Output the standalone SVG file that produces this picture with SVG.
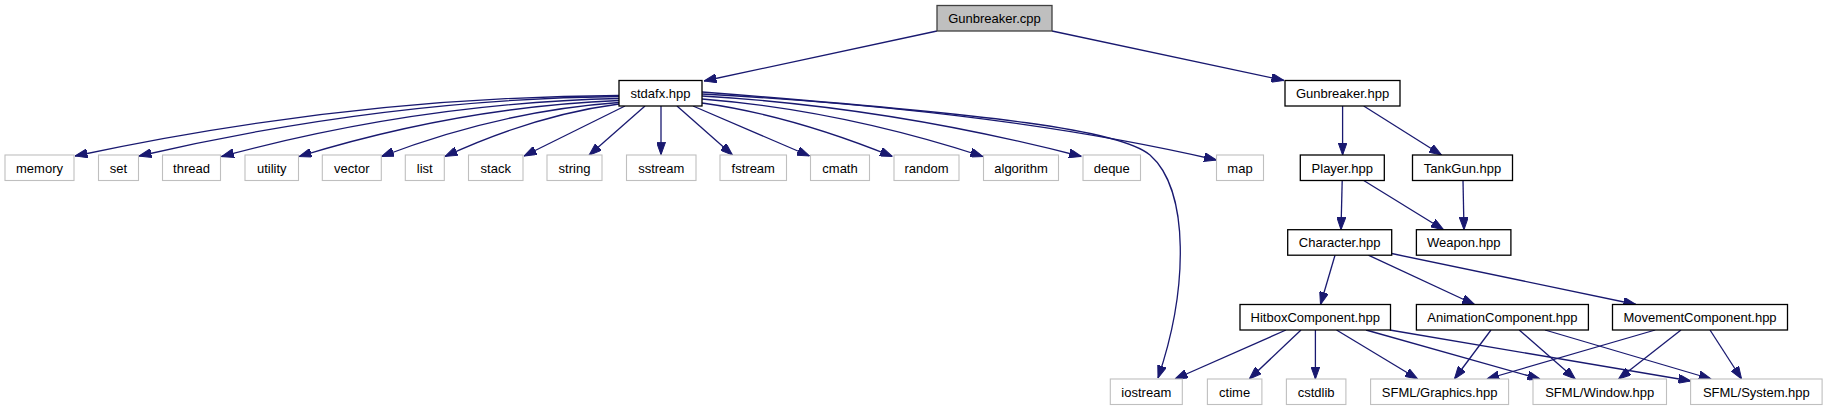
<svg xmlns="http://www.w3.org/2000/svg" width="1827" height="411" viewBox="0 0 1827 411">
<style>
rect{stroke-width:1.3}
.doc rect{fill:#fff;stroke:#000}
.ext rect{fill:#fff;stroke:#bfbfbf;stroke-width:1.1}
.root rect{fill:#bfbfbf;stroke:#404040}
text{font-family:"Liberation Sans",Arial,sans-serif;font-size:13px;text-anchor:middle;fill:#000}
#edges path{fill:none;stroke:#191970;stroke-width:1.3;marker-end:url(#ah)}
</style>
<defs>
<marker id="ah" markerUnits="userSpaceOnUse" viewBox="0 0 12.5 9" markerWidth="12.5" markerHeight="9" refX="12.5" refY="4.5" orient="auto">
<path d="M0,0 L12.5,4.5 L0,9 z" fill="#191970" stroke="#191970" stroke-width="1"/>
</marker>
</defs>
<rect width="1827" height="411" fill="#fff"/>
<g id="edges">
<path d="M937,31 L704,81"/>
<path d="M1052,31 L1284,80.5"/>
<path d="M619,95.5 Q350,97 75,156"/>
<path d="M619,96.5 Q385,99 139,156"/>
<path d="M619,98.5 Q420,103 221.5,156.5"/>
<path d="M619,100.5 Q460,107 299,156.5"/>
<path d="M619,102.5 Q500,111 381.5,156.5"/>
<path d="M619,104 Q535,115 445,156.5"/>
<path d="M625,106 L524,156"/>
<path d="M645,106 L589,155.3"/>
<path d="M661,106 L661,154.7"/>
<path d="M677,106 L732.5,155"/>
<path d="M693,106 L809.5,156"/>
<path d="M702,103 Q790,115 892.5,156.5"/>
<path d="M702,99 Q840,110 983,156.5"/>
<path d="M702,96 Q890,107 1081.5,156.5"/>
<path d="M702,94 Q1000,110 1216.5,160"/>
<path d="M702,92 C1000,115 1120,130 1150,155 C1190,190 1188,290 1158,378"/>
<path d="M1342.6,106 L1342.6,155"/>
<path d="M1363.7,106 L1441.5,155"/>
<path d="M1342.2,180.5 L1341,229.7"/>
<path d="M1363.7,180.5 L1443.6,229.7"/>
<path d="M1463,180.5 L1464,229.7"/>
<path d="M1335,255.2 L1320.5,304.5"/>
<path d="M1368.3,255.2 L1474.5,304.5"/>
<path d="M1391.7,253.5 L1636,304.5"/>
<path d="M1286,330 L1175,379"/>
<path d="M1301,330 L1249.3,379"/>
<path d="M1315.4,330 L1315.4,379"/>
<path d="M1336.5,330 L1417.7,379"/>
<path d="M1366,330 L1540,379"/>
<path d="M1389.7,330 L1691,381"/>
<path d="M1491,330 L1454.4,379"/>
<path d="M1519.2,330 L1575.3,379"/>
<path d="M1545,330 L1711.3,379"/>
<path d="M1655.2,330 L1486.8,379"/>
<path d="M1681,330 L1618.5,379"/>
<path d="M1710,330 L1741.6,379"/>
</g>
<g id="n_gunbreaker_cpp" class="root"><rect x="937" y="5.5" width="115" height="25.5"/><text x="994.5" y="23">Gunbreaker.cpp</text></g>
<g id="n_stdafx" class="doc"><rect x="619" y="80.5" width="83" height="25.5"/><text x="660.5" y="98">stdafx.hpp</text></g>
<g id="n_gunbreaker_hpp" class="doc"><rect x="1285" y="80.5" width="115" height="25.5"/><text x="1342.5" y="98">Gunbreaker.hpp</text></g>
<g id="n_memory" class="ext"><rect x="5" y="155" width="69" height="25.5"/><text x="39.5" y="172.5">memory</text></g>
<g id="n_set" class="ext"><rect x="98.5" y="155" width="40" height="25.5"/><text x="118.5" y="172.5">set</text></g>
<g id="n_thread" class="ext"><rect x="162.5" y="155" width="58" height="25.5"/><text x="191.5" y="172.5">thread</text></g>
<g id="n_utility" class="ext"><rect x="245" y="155" width="53.5" height="25.5"/><text x="271.75" y="172.5">utility</text></g>
<g id="n_vector" class="ext"><rect x="322.3" y="155" width="59" height="25.5"/><text x="351.8" y="172.5">vector</text></g>
<g id="n_list" class="ext"><rect x="405.3" y="155" width="39" height="25.5"/><text x="424.8" y="172.5">list</text></g>
<g id="n_stack" class="ext"><rect x="468.5" y="155" width="54.5" height="25.5"/><text x="495.75" y="172.5">stack</text></g>
<g id="n_string" class="ext"><rect x="547" y="155" width="55" height="25.5"/><text x="574.5" y="172.5">string</text></g>
<g id="n_sstream" class="ext"><rect x="626.5" y="155" width="69.5" height="25.5"/><text x="661.25" y="172.5">sstream</text></g>
<g id="n_fstream" class="ext"><rect x="720" y="155" width="66.5" height="25.5"/><text x="753.25" y="172.5">fstream</text></g>
<g id="n_cmath" class="ext"><rect x="810.5" y="155" width="59" height="25.5"/><text x="840" y="172.5">cmath</text></g>
<g id="n_random" class="ext"><rect x="894" y="155" width="65" height="25.5"/><text x="926.5" y="172.5">random</text></g>
<g id="n_algorithm" class="ext"><rect x="983.5" y="155" width="75" height="25.5"/><text x="1021" y="172.5">algorithm</text></g>
<g id="n_deque" class="ext"><rect x="1083" y="155" width="57.5" height="25.5"/><text x="1111.75" y="172.5">deque</text></g>
<g id="n_map" class="ext"><rect x="1216.5" y="155" width="47" height="25.5"/><text x="1240" y="172.5">map</text></g>
<g id="n_player" class="doc"><rect x="1300.3" y="155" width="84" height="25.5"/><text x="1342.3" y="172.5">Player.hpp</text></g>
<g id="n_tankgun" class="doc"><rect x="1412.5" y="155" width="100" height="25.5"/><text x="1462.5" y="172.5">TankGun.hpp</text></g>
<g id="n_character" class="doc"><rect x="1287.7" y="229.7" width="104" height="25.5"/><text x="1339.7" y="247.2">Character.hpp</text></g>
<g id="n_weapon" class="doc"><rect x="1416.4" y="229.7" width="94.5" height="25.5"/><text x="1463.65" y="247.2">Weapon.hpp</text></g>
<g id="n_hitbox" class="doc"><rect x="1240" y="304.5" width="150.5" height="25.5"/><text x="1315.25" y="322">HitboxComponent.hpp</text></g>
<g id="n_animation" class="doc"><rect x="1416.4" y="304.5" width="172" height="25.5"/><text x="1502.4" y="322">AnimationComponent.hpp</text></g>
<g id="n_movement" class="doc"><rect x="1612.5" y="304.5" width="175" height="25.5"/><text x="1700" y="322">MovementComponent.hpp</text></g>
<g id="n_iostream" class="ext"><rect x="1110.3" y="379" width="72" height="25.5"/><text x="1146.3" y="396.5">iostream</text></g>
<g id="n_ctime" class="ext"><rect x="1207.4" y="379" width="54.5" height="25.5"/><text x="1234.65" y="396.5">ctime</text></g>
<g id="n_cstdlib" class="ext"><rect x="1286.4" y="379" width="59.5" height="25.5"/><text x="1316.15" y="396.5">cstdlib</text></g>
<g id="n_sfml_graphics" class="ext"><rect x="1370.6" y="379" width="138" height="25.5"/><text x="1439.6" y="396.5">SFML/Graphics.hpp</text></g>
<g id="n_sfml_window" class="ext"><rect x="1533" y="379" width="133.5" height="25.5"/><text x="1599.75" y="396.5">SFML/Window.hpp</text></g>
<g id="n_sfml_system" class="ext"><rect x="1690.6" y="379" width="131.5" height="25.5"/><text x="1756.35" y="396.5">SFML/System.hpp</text></g>
</svg>
